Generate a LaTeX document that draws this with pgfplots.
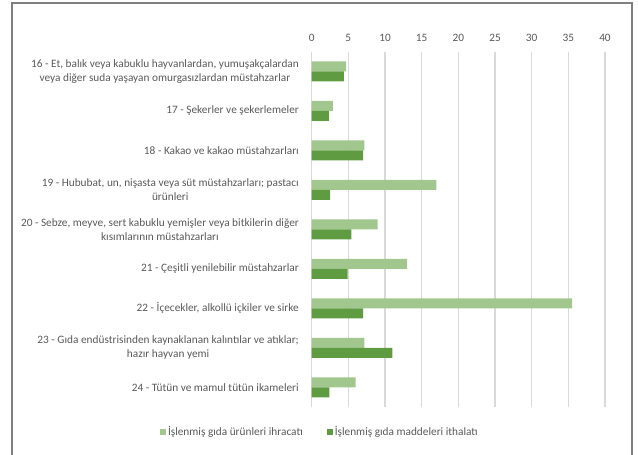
\documentclass[border=0pt]{standalone}
\usepackage{fontspec}
\setmainfont{Carlito}
\usepackage{pgfplots}
\pgfplotsset{compat=1.18}
\definecolor{expc}{HTML}{A1C78E}
\definecolor{impc}{HTML}{5F9C41}
\definecolor{txt}{HTML}{595959}
\definecolor{grd}{HTML}{D9D9D9}
\definecolor{frm}{HTML}{7F7F7F}
\begin{document}
\begin{tikzpicture}
\useasboundingbox (-311.7bp,-48bp) rectangle (326.3bp,407bp);
\draw[frm, line width=1.1bp] (-299.7bp,-80bp) rectangle (320.3bp,404bp);
\begin{axis}[
  at={(0,0)}, anchor=south west,
  scale only axis,
  width=293.3bp, height=355.5bp,
  xbar, bar width=10bp,
  xmin=0, xmax=40, ymin=-0.5, ymax=8.5,
  xtick={0,5,...,40},
  ytick={0,1,...,8},
  xticklabel pos=upper,
  major tick length=0pt,
  axis line style={draw=none},
  xmajorgrids, grid style={grd, line width=1.1bp},
  /pgf/number format/assume math mode=true,
  tick label style={font=\fontsize{11.3bp}{13bp}\selectfont, text=txt},
  xticklabel style={inner sep=0pt, anchor=south, yshift=9.5bp},
  yticklabel style={inner sep=0pt, align=center, anchor=east, xshift=-12.7bp, font=\fontsize{11.3bp}{14bp}\selectfont},
  yticklabels={
    {24 - Tütün ve mamul tütün ikameleri},
    {23 - Gıda endüstrisinden kaynaklanan kalıntılar ve atıklar;\\hazır hayvan yemi},
    {22 - İçecekler, alkollü içkiler ve sirke},
    {21 - Çeşitli yenilebilir müstahzarlar},
    {20 - Sebze, meyve, sert kabuklu yemişler veya bitkilerin diğer\\kısımlarının müstahzarları},
    {19 - Hububat, un, nişasta veya süt müstahzarları; pastacı\\ürünleri},
    {18 - Kakao ve kakao müstahzarları},
    {17 - Şekerler ve şekerlemeler},
    {16 - Et, balık veya kabuklu hayvanlardan, yumuşakçalardan\\veya diğer suda yaşayan omurgasızlardan müstahzarlar}
  },
  legend columns=2,
  legend style={at={(0.028,-0.070)}, anchor=center, draw=none, fill=none,
    font=\fontsize{11.3bp}{13bp}\selectfont, text=txt,
    /tikz/every even column/.append style={column sep=22bp}},
  legend image code/.code={\fill[#1] (0bp,-3bp) rectangle (6bp,3bp);},
]
\addplot[fill=expc, draw=none, bar shift=5bp] coordinates {
  (6.0,0) (7.2,1) (35.5,2) (13.0,3) (9.0,4) (17.0,5) (7.2,6) (2.9,7) (4.7,8)};
\addlegendentry{İşlenmiş gıda ürünleri ihracatı}
\addplot[fill=impc, draw=none, bar shift=-5bp] coordinates {
  (2.4,0) (11.0,1) (7.0,2) (4.9,3) (5.4,4) (2.5,5) (7.0,6) (2.35,7) (4.4,8)};
\addlegendentry{İşlenmiş gıda maddeleri ithalatı}
\end{axis}
\end{tikzpicture}
\end{document}
